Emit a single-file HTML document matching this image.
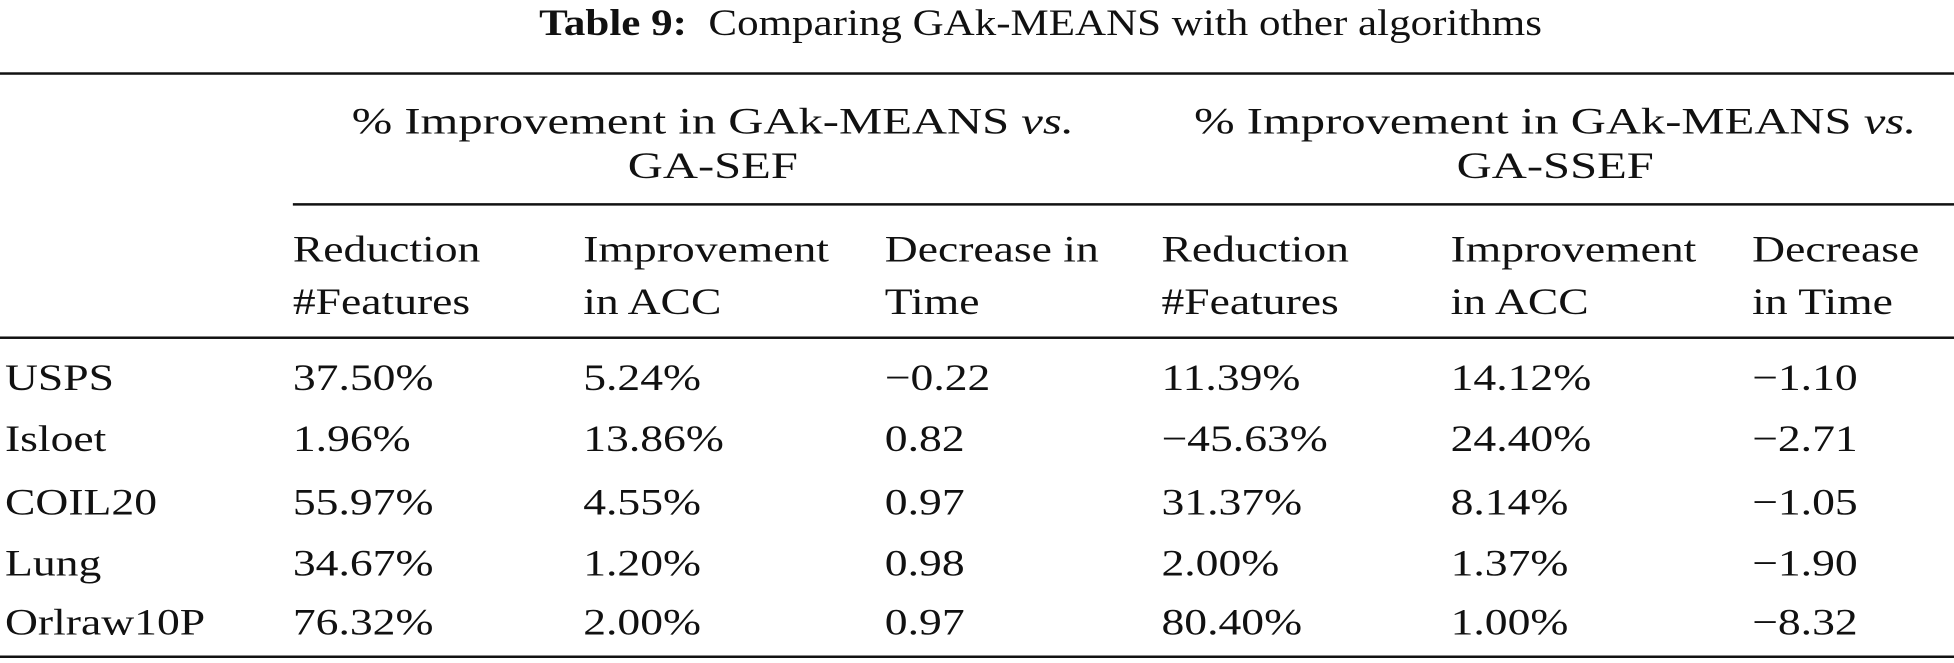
<!DOCTYPE html>
<html><head><meta charset="utf-8"><style>
html,body{margin:0;padding:0;background:#fff;width:1954px;height:662px;overflow:hidden}
#wrap{position:absolute;left:0;top:0;width:1568px;height:532px;transform:scale(1.2462);transform-origin:0 0;font-family:"Liberation Serif",serif;font-size:30px;color:#111}
.t{position:absolute;white-space:nowrap;line-height:1;transform:scaleX(1.22);transform-origin:0 0}
.c{transform-origin:50% 0}
.r{position:absolute;background:#111;height:2px}
</style></head><body>
<div id="wrap">
<div class="t c" style="left:51px;width:1568px;text-align:center;top:4px;transform:scaleX(1.15)"><b>Table 9:</b>&nbsp; Comparing GAk-MEANS with other algorithms</div>
<div class="r" style="left:0;width:1568px;top:58px"></div>
<div class="t c" style="left:237px;width:670px;text-align:center;top:80px;line-height:36px;white-space:normal;transform:scaleX(1.3)">% Improvement in GAk-MEANS <i>vs.</i><br>GA-SEF</div>
<div class="t c" style="left:913px;width:670px;text-align:center;top:80px;line-height:36px;white-space:normal;transform:scaleX(1.3)">% Improvement in GAk-MEANS <i>vs.</i><br>GA-SSEF</div>
<div class="r" style="left:235px;width:1333px;top:163px"></div>
<div id="heads"></div>
<div class="r" style="left:0;width:1568px;top:270px"></div>
<div id="body"></div>
<div class="r" style="left:0;width:1568px;top:526px"></div>
</div>
<script>
const colX=[235,468,710,932,1164,1406];
const heads=[["Reduction","#Features"],["Improvement","in ACC"],["Decrease in","Time"],["Reduction","#Features"],["Improvement","in ACC"],["Decrease","in Time"]];
const rowsLabels=["USPS","Isloet","COIL20","Lung","Orlraw10P"];
const cells=[
["37.50%","5.24%","\u22120.22","11.39%","14.12%","\u22121.10"],
["1.96%","13.86%","0.82","\u221245.63%","24.40%","\u22122.71"],
["55.97%","4.55%","0.97","31.37%","8.14%","\u22121.05"],
["34.67%","1.20%","0.98","2.00%","1.37%","\u22121.90"],
["76.32%","2.00%","0.97","80.40%","1.00%","\u22128.32"]];
const H=document.getElementById('heads'),B=document.getElementById('body');
heads.forEach((h,i)=>{const d=document.createElement('div');d.className='t';


d.style.left=colX[i]+'px';d.style.top='180px';d.style.lineHeight='42px';d.innerHTML=h[0]+'<br>'+h[1];H.appendChild(d);});
const rowY=[289,338,389,438,485];
rowsLabels.forEach((l,r)=>{const d=document.createElement('div');d.className='t';


d.style.left='4px';d.style.top=rowY[r]+'px';d.textContent=l;B.appendChild(d);
cells[r].forEach((v,c)=>{const e=document.createElement('div');e.className='t';


e.style.left=colX[c]+'px';e.style.top=rowY[r]+'px';e.textContent=v;B.appendChild(e);});});
</script>
</body></html>
